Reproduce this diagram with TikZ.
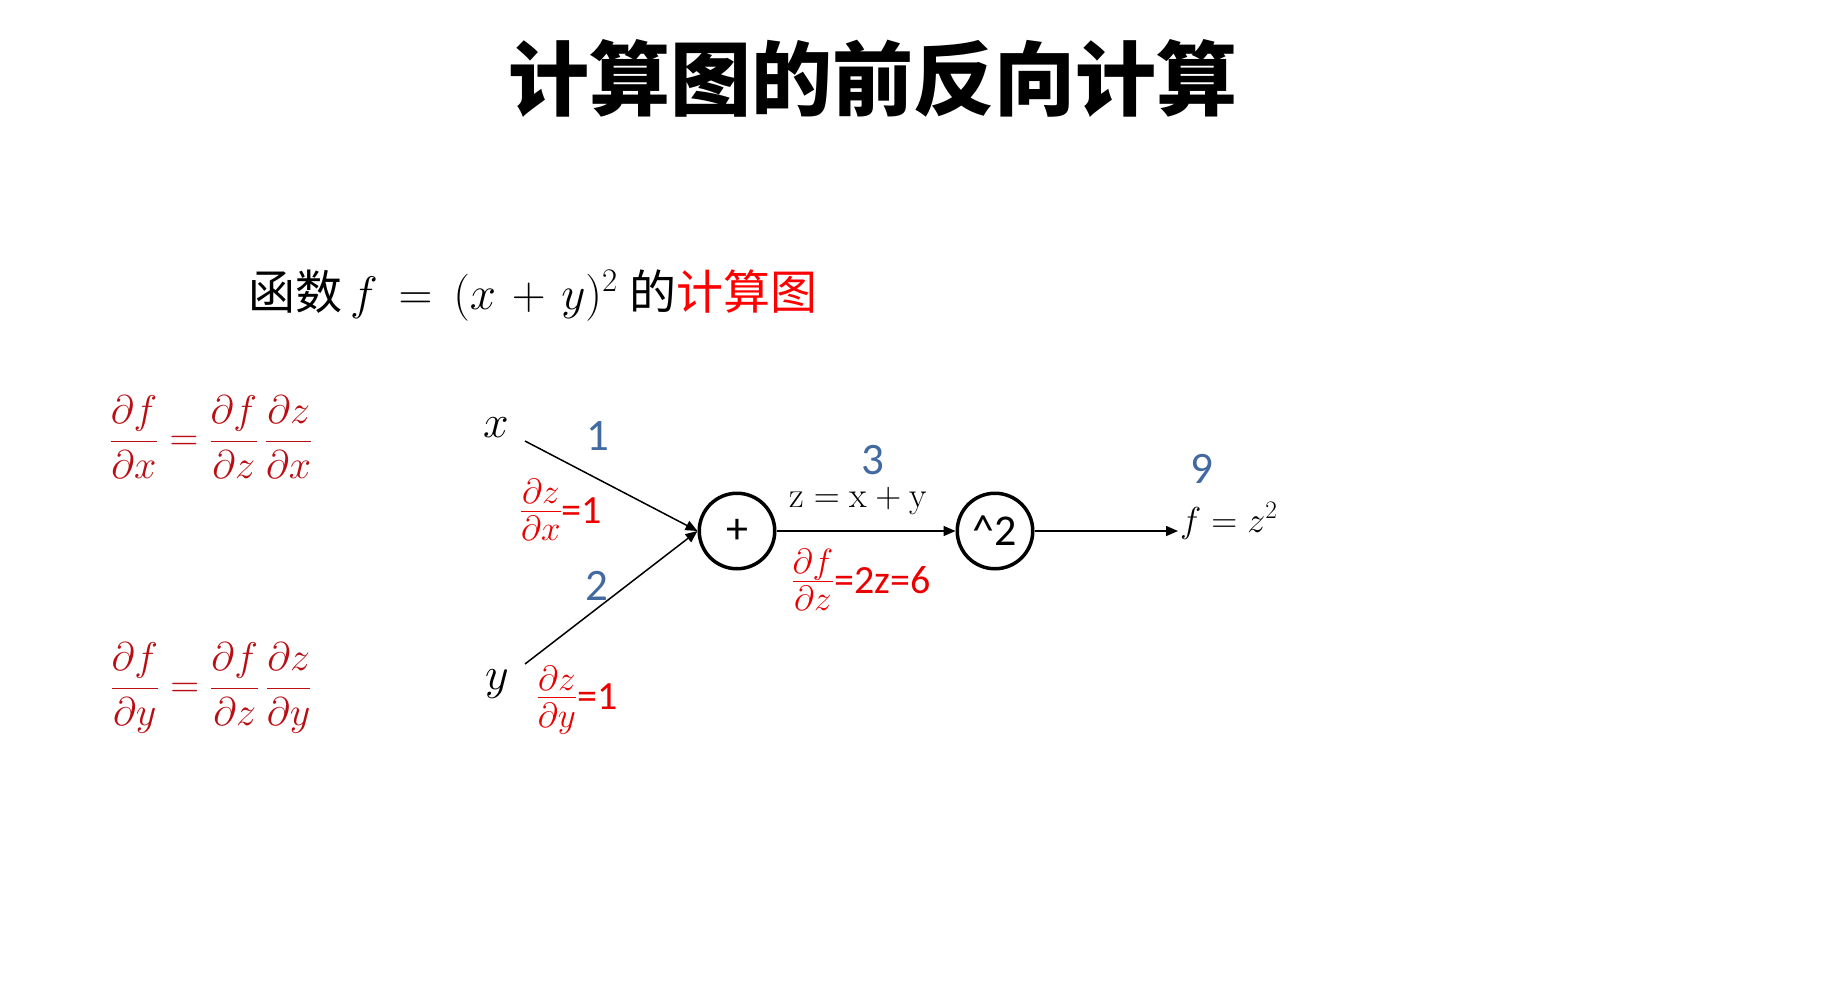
\RequirePackage{fix-cm}
\documentclass[tikz,border=0pt]{standalone}
\usepackage{fontspec}
\usetikzlibrary{arrows.meta}
\newfontfamily\cjk{Noto Sans CJK SC}
\newfontfamily\calib{Carlito}
\definecolor{nblue}{RGB}{66,105,160}
\definecolor{dred}{RGB}{185,15,20}
\definecolor{lred}{RGB}{235,0,0}
\newcommand{\bigfrac}[2]{{\fontsize{50}{56}\selectfont$\frac{#1}{#2}$}}
\tikzset{
  titlestyle/.style={inner sep=0pt, font=\fontsize{81}{90}\selectfont\cjk\bfseries},
  substyle/.style={inner sep=0pt, anchor=west, font=\fontsize{47}{56}\selectfont},
  deq/.style={inner sep=0pt, text=dred, font=\fontsize{40}{46}\selectfont},
  varstyle/.style={inner sep=0pt, font=\fontsize{46}{54}\selectfont},
  opnode/.style={circle, draw, line width=3.5pt, minimum size=75.5pt, inner sep=0pt, font=\fontsize{44}{50}\selectfont\calib},
  numstyle/.style={inner sep=0pt, text height=29pt, text depth=0pt, text=nblue, font=\fontsize{45}{50}\selectfont\calib},
  dlab/.style={inner sep=0pt, text=lred, font=\fontsize{40}{46}\selectfont\calib},
  eqlab/.style={inner sep=0pt, font=\fontsize{36}{42}\selectfont},
  conn/.style={line width=1.5pt, -{Triangle[length=12pt,width=10pt]}}
}
\begin{document}
\begin{tikzpicture}[x=1pt,y=-1pt]
\useasboundingbox[fill=white] (0,0) rectangle (1828,993);
% title
\node[titlestyle] (title) at (873,78) {计算图的前反向计算};
% subtitle
\node[substyle] (sub) at (248,295) {{\cjk 函数}\,$\thickmuskip=8mu\medmuskip=6mu f=(x+y)^2$\hspace{12pt}{\cjk 的}{\cjk\color{red}计算图}};
% chain rule formulas
\node[deq] (e1) at (211,437) {$\displaystyle\frac{\partial f}{\partial x}=\frac{\partial f}{\partial z}\,\frac{\partial z}{\partial x}$};
\node[deq] (e2) at (211,688) {$\displaystyle\frac{\partial f}{\partial y}=\frac{\partial f}{\partial z}\,\frac{\partial z}{\partial y}$};
% graph nodes
\node[varstyle] (xv) at (496,428) {$x$};
\node[varstyle] (yv) at (497,684) {$y$};
\node[opnode] (plus) at (737,531) {+};
\node[opnode] (sq) at (995,531) {\textasciicircum 2};
\node[eqlab, inner sep=2pt, anchor=base west] (fz) at (1178,532) {$f=z^2$};
\coordinate (xs) at (525,441);
\coordinate (ys) at (525,664);
% connectors
\draw[conn] (xs) -- (plus.west);
\draw[conn] (ys) -- (plus.west);
\draw[conn] (plus) -- (sq);
\draw[conn] (sq) -- (sq -| fz.west);
% labels
\node[eqlab] (zl) at (858,501) {$\mathrm{z}=\mathrm{x}+\mathrm{y}$};
\node[numstyle] (n1) at (598,436) {1};
\node[numstyle] (n2) at (597,586) {2};
\node[numstyle] (n3) at (873,460) {3};
\node[numstyle] (n9) at (1202,469) {9};
\node[dlab] (gx) at (561,510) {\bigfrac{\partial z}{\partial x}=1};
\node[dlab] (gy) at (577,700) {\bigfrac{\partial z}{\partial y}=1};
\node[dlab] (gz) at (861,580) {\bigfrac{\partial f}{\partial z}=2z=6};
\end{tikzpicture}
\end{document}
